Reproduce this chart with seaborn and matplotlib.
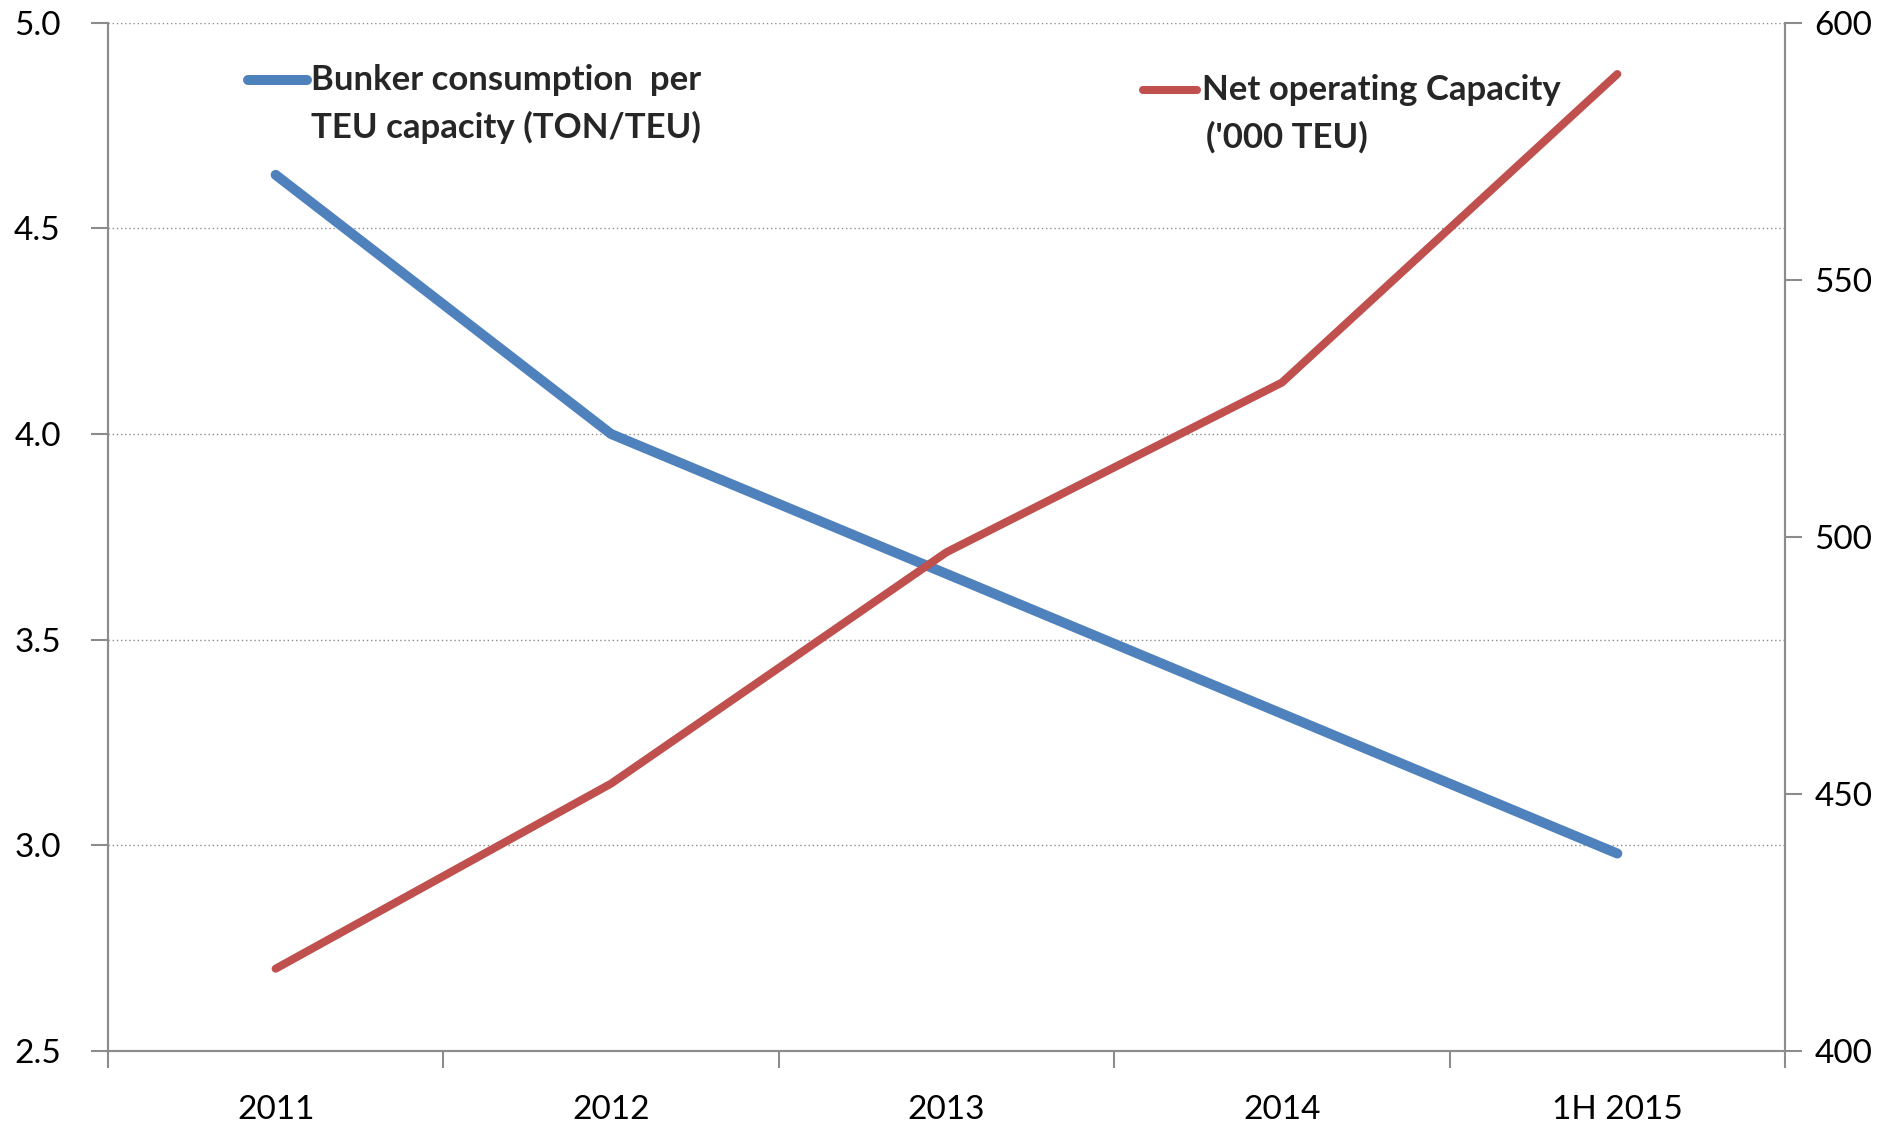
import matplotlib
matplotlib.use("Agg")
import matplotlib.pyplot as plt
from matplotlib.lines import Line2D
import seaborn as sns
import pandas as pd

periods = ["2011", "2012", "2013", "2014", "1H 2015"]
bunker_per_teu = [4.63, 4.00, 3.66, 3.32, 2.98]       # TON/TEU
net_capacity = [416, 452, 497, 530, 590]              # '000 TEU

left_ticks = [2.5, 3.0, 3.5, 4.0, 4.5, 5.0]
right_ticks = [400, 450, 500, 550, 600]

blue = "#4F81BD"
red = "#C0504D"
axis_grey = "#8C8C8C"

sns.set_theme(style="white")
plt.rcParams["font.family"] = ["Lato", "DejaVu Sans"]

df = pd.DataFrame({"period": periods, "bunker": bunker_per_teu, "capacity": net_capacity})
df["pos"] = range(len(periods))

fig = plt.figure(figsize=(18.77, 11.28), dpi=100)
ax = fig.add_axes([0.0575, 0.0683, 0.8935, 0.9116])
ax2 = ax.twinx()

sns.lineplot(data=df, x="pos", y="bunker", ax=ax, color=blue, linewidth=7.2,
             solid_capstyle="round", sort=False, zorder=3)
sns.lineplot(data=df, x="pos", y="capacity", ax=ax2, color=red, linewidth=5.8,
             solid_capstyle="round", sort=False, zorder=3)

# Left axis
ax.set_xlim(-0.5, len(periods) - 0.5)
ax.set_ylim(2.5, 5.0)
ax.set_yticks(left_ticks)
ax.set_yticklabels([f"{t:.1f}" for t in left_ticks])
ax.set_xlabel("")
ax.set_ylabel("")
ax.yaxis.grid(True, linestyle=(0, (1, 2)), color="#8C8C8C", linewidth=1.0)
ax.xaxis.grid(False)

# Category boundaries carry the tick marks, labels sit at the centres
ax.set_xticks([i - 0.5 for i in range(len(periods) + 1)])
ax.set_xticklabels([])
ax.set_xticks(list(range(len(periods))), minor=True)
ax.set_xticklabels(periods, minor=True)
ax.tick_params(axis="x", which="major", direction="out", length=12, width=1.5,
               color=axis_grey, bottom=True)
ax.tick_params(axis="x", which="minor", length=0, pad=32, labelsize=24,
               labelcolor="black")
ax.tick_params(axis="y", direction="out", length=12, width=1.5, color=axis_grey,
               left=True, pad=22, labelsize=24, labelcolor="black")

# Right axis
ax2.set_ylim(400, 600)
ax2.set_yticks(right_ticks)
ax2.set_yticklabels([str(t) for t in right_ticks])
ax2.set_ylabel("")
ax2.grid(False)
ax2.tick_params(axis="y", direction="out", length=12, width=1.5, color=axis_grey,
                right=True, pad=9, labelsize=24, labelcolor="black")

for a in (ax, ax2):
    a.spines["top"].set_visible(False)
    for side in ("left", "right", "bottom"):
        a.spines[side].set_color(axis_grey)
        a.spines[side].set_linewidth(1.5)

# Legend entries placed inside the plot area
W, H = 1877, 1128


def fx(px):
    return px / W


def fy(py):
    return 1 - py / H


legend_size = 25

fig.add_artist(Line2D([fx(248), fx(307)], [fy(80), fy(80)], color=blue,
                      linewidth=7.2, solid_capstyle="round"))
fig.text(fx(311), fy(80), "Bunker consumption  per", fontsize=legend_size,
         fontweight="bold", va="center", ha="left")
fig.text(fx(311), fy(127), "TEU capacity (TON/TEU)", fontsize=legend_size,
         fontweight="bold", va="center", ha="left")

fig.add_artist(Line2D([fx(1143), fx(1197)], [fy(90), fy(90)], color=red,
                      linewidth=5.8, solid_capstyle="round"))
fig.text(fx(1202), fy(90), "Net operating Capacity", fontsize=legend_size,
         fontweight="bold", va="center", ha="left")
fig.text(fx(1206), fy(137), "('000 TEU)", fontsize=legend_size,
         fontweight="bold", va="center", ha="left")

fig.savefig("out.png", dpi=100)
